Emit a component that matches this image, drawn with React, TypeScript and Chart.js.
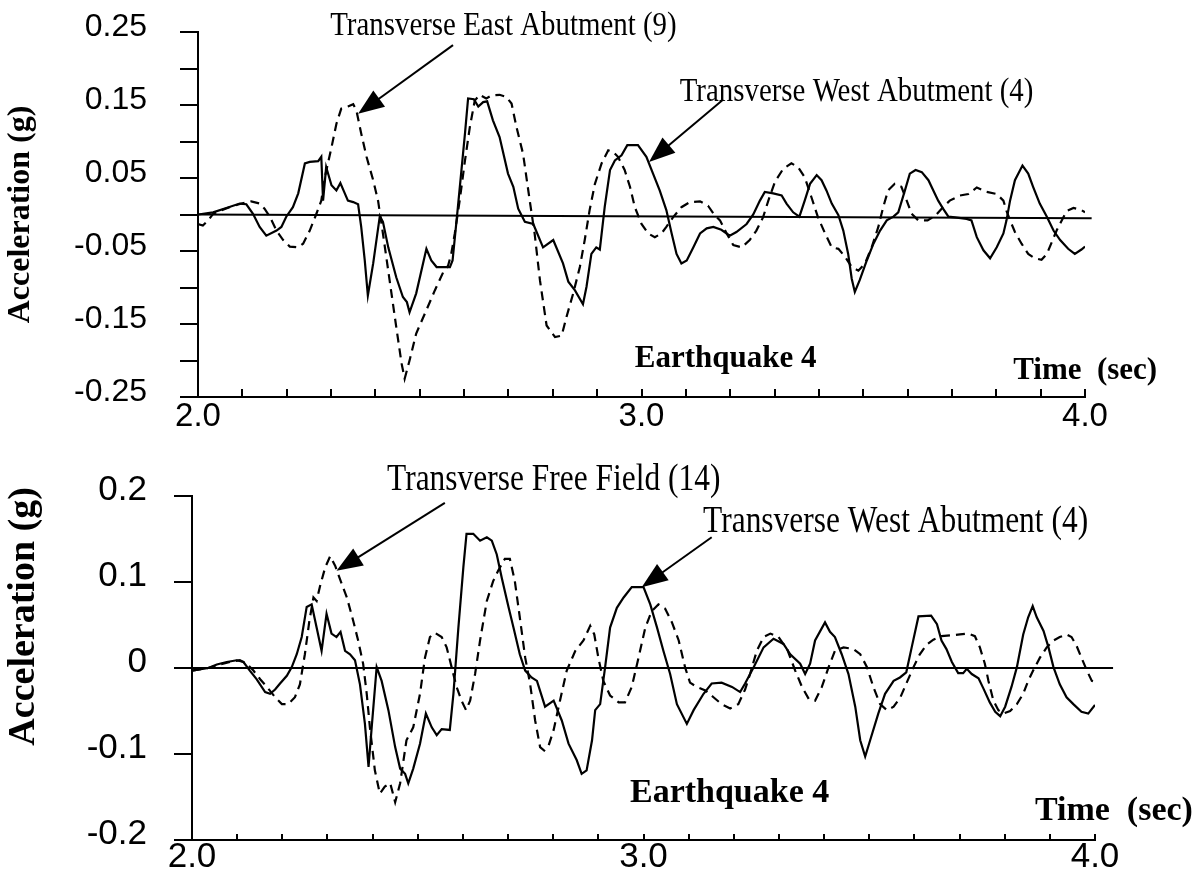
import React, { useEffect, useRef } from 'react';
import { Chart, registerables } from 'chart.js';

Chart.register(...registerables);

// ---------- axis ticks & labels ----------
const TIME_TICKS = [2.0, 2.1, 2.2, 2.3, 2.4, 2.5, 2.6, 2.7, 2.8, 2.9, 3.0, 3.1, 3.2, 3.3, 3.4, 3.5, 3.6, 3.7, 3.8, 3.9, 4.0];
const TIME_LABELS = ['2.0', '', '', '', '', '', '', '', '', '', '3.0', '', '', '', '', '', '', '', '', '', '4.0'];
const TOP_ACC_TICKS = [-0.25, -0.2, -0.15, -0.1, -0.05, 0, 0.05, 0.1, 0.15, 0.2, 0.25];
const TOP_ACC_LABELS = ['-0.25', '', '-0.15', '', '-0.05', '', '0.05', '', '0.15', '', '0.25'];
const BOTTOM_ACC_TICKS = [-0.2, -0.1, 0, 0.1, 0.2];
const BOTTOM_ACC_LABELS = ['-0.2', '-0.1', '0', '0.1', '0.2'];

// ---------- series: [time (sec), acceleration (g)] ----------
const TOP_WEST_4: number[][] = [
  [2.000, 0.000], [2.034, 0.003], [2.064, 0.009], [2.094, 0.015], [2.109, 0.014], [2.124, 0.001], [2.139, -0.017],
  [2.154, -0.029], [2.177, -0.022], [2.188, -0.017], [2.199, -0.003], [2.214, 0.010], [2.226, 0.029], [2.241, 0.070],
  [2.252, 0.072], [2.271, 0.073], [2.278, 0.079], [2.282, 0.019], [2.289, 0.065], [2.301, 0.040], [2.312, 0.033],
  [2.321, 0.043], [2.331, 0.029], [2.338, 0.019], [2.350, 0.017], [2.361, 0.014], [2.368, -0.017], [2.376, -0.063],
  [2.383, -0.111], [2.395, -0.067], [2.410, -0.002], [2.417, -0.010], [2.429, -0.045], [2.447, -0.086], [2.462, -0.113],
  [2.471, -0.120], [2.477, -0.134], [2.492, -0.108], [2.515, -0.047], [2.526, -0.063], [2.538, -0.072], [2.553, -0.072],
  [2.568, -0.072], [2.574, -0.063], [2.586, 0.010], [2.602, 0.111], [2.609, 0.159], [2.622, 0.158], [2.632, 0.148],
  [2.643, 0.154], [2.652, 0.155], [2.665, 0.129], [2.680, 0.106], [2.699, 0.056], [2.711, 0.038], [2.722, 0.008],
  [2.737, -0.010], [2.756, -0.013], [2.778, -0.045], [2.801, -0.035], [2.823, -0.067], [2.835, -0.092], [2.850, -0.104],
  [2.868, -0.123], [2.876, -0.099], [2.887, -0.054], [2.898, -0.045], [2.906, -0.048], [2.917, 0.010], [2.929, 0.061],
  [2.940, 0.074], [2.955, 0.081], [2.968, 0.095], [2.992, 0.095], [3.011, 0.079], [3.026, 0.056], [3.041, 0.033],
  [3.056, 0.006], [3.068, -0.026], [3.079, -0.054], [3.090, -0.067], [3.102, -0.063], [3.117, -0.045], [3.132, -0.026],
  [3.147, -0.019], [3.162, -0.017], [3.180, -0.021], [3.199, -0.029], [3.214, -0.024], [3.237, -0.013], [3.252, 0.000],
  [3.267, 0.019], [3.278, 0.031], [3.297, 0.029], [3.316, 0.026], [3.327, 0.015], [3.342, 0.003], [3.356, -0.003],
  [3.368, 0.019], [3.380, 0.042], [3.395, 0.054], [3.406, 0.047], [3.417, 0.033], [3.429, 0.015], [3.444, -0.001],
  [3.455, -0.022], [3.466, -0.054], [3.474, -0.088], [3.481, -0.106], [3.492, -0.090], [3.508, -0.063], [3.523, -0.040],
  [3.538, -0.022], [3.553, -0.008], [3.568, -0.003], [3.579, 0.003], [3.594, 0.033], [3.605, 0.056], [3.618, 0.061],
  [3.632, 0.058], [3.647, 0.047], [3.658, 0.033], [3.669, 0.019], [3.680, 0.008], [3.692, -0.003], [3.707, -0.004],
  [3.733, -0.006], [3.744, -0.008], [3.756, -0.031], [3.771, -0.049], [3.786, -0.060], [3.801, -0.045], [3.816, -0.026],
  [3.823, -0.008], [3.831, 0.019], [3.842, 0.047], [3.859, 0.067], [3.872, 0.056], [3.883, 0.038], [3.898, 0.015],
  [3.914, -0.003], [3.929, -0.022], [3.944, -0.035], [3.962, -0.047], [3.977, -0.054], [3.992, -0.048], [4.000, -0.044],
];

const TOP_EAST_9: number[][] = [
  [2.000, -0.013], [2.011, -0.015], [2.023, -0.008], [2.034, 0.001], [2.049, 0.005], [2.071, 0.010], [2.098, 0.015],
  [2.120, 0.018], [2.139, 0.015], [2.150, 0.008], [2.162, -0.003], [2.177, -0.022], [2.192, -0.035], [2.207, -0.044],
  [2.226, -0.045], [2.237, -0.040], [2.252, -0.022], [2.267, 0.001], [2.278, 0.019], [2.286, 0.051], [2.301, 0.092],
  [2.312, 0.124], [2.323, 0.145], [2.338, 0.148], [2.350, 0.151], [2.357, 0.143], [2.368, 0.111], [2.380, 0.079],
  [2.395, 0.047], [2.406, 0.019], [2.417, -0.026], [2.432, -0.090], [2.447, -0.154], [2.459, -0.204], [2.466, -0.225],
  [2.477, -0.200], [2.492, -0.163], [2.515, -0.131], [2.534, -0.104], [2.553, -0.079], [2.564, -0.070], [2.571, -0.054],
  [2.579, -0.026], [2.590, 0.019], [2.602, 0.074], [2.613, 0.120], [2.624, 0.156], [2.635, 0.164], [2.650, 0.159],
  [2.662, 0.163], [2.680, 0.164], [2.695, 0.161], [2.707, 0.152], [2.718, 0.120], [2.733, 0.083], [2.748, 0.019],
  [2.759, -0.026], [2.771, -0.090], [2.786, -0.152], [2.805, -0.168], [2.820, -0.166], [2.831, -0.140], [2.846, -0.108],
  [2.861, -0.072], [2.872, -0.035], [2.883, 0.006], [2.895, 0.042], [2.910, 0.070], [2.925, 0.088], [2.936, 0.086],
  [2.947, 0.079], [2.962, 0.061], [2.974, 0.038], [2.985, 0.010], [3.000, -0.013], [3.015, -0.026], [3.030, -0.031],
  [3.045, -0.026], [3.056, -0.017], [3.071, -0.004], [3.090, 0.010], [3.109, 0.017], [3.132, 0.018], [3.150, 0.012],
  [3.165, -0.001], [3.177, -0.008], [3.192, -0.026], [3.207, -0.042], [3.226, -0.045], [3.244, -0.035], [3.259, -0.022],
  [3.274, -0.004], [3.286, 0.019], [3.301, 0.045], [3.320, 0.063], [3.338, 0.070], [3.353, 0.065], [3.368, 0.051],
  [3.383, 0.024], [3.398, -0.004], [3.414, -0.026], [3.429, -0.045], [3.444, -0.047], [3.459, -0.058], [3.474, -0.072],
  [3.489, -0.077], [3.504, -0.067], [3.519, -0.045], [3.534, -0.017], [3.545, 0.010], [3.556, 0.033], [3.571, 0.042],
  [3.586, 0.038], [3.598, 0.019], [3.609, 0.001], [3.624, -0.008], [3.645, -0.008], [3.662, -0.002], [3.680, 0.010],
  [3.695, 0.019], [3.718, 0.026], [3.737, 0.028], [3.756, 0.037], [3.778, 0.031], [3.801, 0.028], [3.816, 0.019],
  [3.823, 0.005], [3.831, -0.008], [3.842, -0.024], [3.857, -0.040], [3.872, -0.054], [3.887, -0.060], [3.902, -0.062],
  [3.914, -0.054], [3.925, -0.038], [3.936, -0.022], [3.951, -0.004], [3.959, 0.005], [3.974, 0.009], [3.992, 0.006],
  [4.000, 0.003],
];

const BOTTOM_WEST_4: number[][] = [
  [2.000, -0.003], [2.036, 0.000], [2.055, 0.004], [2.077, 0.007], [2.099, 0.009], [2.114, 0.007], [2.128, -0.003],
  [2.143, -0.013], [2.162, -0.028], [2.173, -0.030], [2.184, -0.025], [2.195, -0.018], [2.210, -0.009], [2.221, 0.001],
  [2.232, 0.016], [2.243, 0.036], [2.254, 0.071], [2.265, 0.074], [2.276, 0.047], [2.287, 0.020], [2.298, 0.063],
  [2.309, 0.040], [2.320, 0.036], [2.329, 0.042], [2.339, 0.020], [2.350, 0.016], [2.361, 0.009], [2.372, -0.019],
  [2.383, -0.065], [2.391, -0.115], [2.398, -0.069], [2.409, 0.001], [2.420, -0.015], [2.435, -0.049], [2.450, -0.092],
  [2.461, -0.117], [2.472, -0.123], [2.479, -0.134], [2.490, -0.117], [2.505, -0.088], [2.518, -0.053], [2.531, -0.069],
  [2.542, -0.078], [2.553, -0.071], [2.571, -0.072], [2.579, -0.030], [2.590, 0.047], [2.601, 0.117], [2.608, 0.156],
  [2.623, 0.156], [2.638, 0.148], [2.653, 0.152], [2.664, 0.148], [2.675, 0.132], [2.686, 0.105], [2.701, 0.071],
  [2.712, 0.047], [2.726, 0.016], [2.738, -0.003], [2.752, -0.011], [2.764, -0.015], [2.782, -0.045], [2.801, -0.038],
  [2.819, -0.061], [2.834, -0.088], [2.852, -0.107], [2.863, -0.123], [2.874, -0.119], [2.886, -0.084], [2.893, -0.049],
  [2.904, -0.042], [2.915, 0.001], [2.926, 0.047], [2.941, 0.070], [2.956, 0.082], [2.974, 0.094], [3.000, 0.094],
  [3.015, 0.074], [3.030, 0.047], [3.044, 0.020], [3.059, -0.007], [3.074, -0.042], [3.096, -0.065], [3.111, -0.049],
  [3.133, -0.030], [3.151, -0.018], [3.173, -0.017], [3.196, -0.022], [3.214, -0.028], [3.225, -0.018], [3.244, 0.001],
  [3.266, 0.024], [3.288, 0.034], [3.310, 0.028], [3.325, 0.016], [3.347, 0.005], [3.358, -0.007], [3.369, 0.005],
  [3.380, 0.032], [3.402, 0.053], [3.413, 0.042], [3.424, 0.036], [3.439, 0.016], [3.454, -0.007], [3.469, -0.045],
  [3.480, -0.084], [3.491, -0.103], [3.502, -0.084], [3.520, -0.053], [3.535, -0.030], [3.554, -0.015], [3.568, -0.011],
  [3.582, -0.005], [3.594, 0.024], [3.609, 0.060], [3.637, 0.061], [3.650, 0.051], [3.660, 0.032], [3.671, 0.022],
  [3.683, 0.007], [3.697, -0.006], [3.708, -0.006], [3.716, -0.001], [3.727, -0.007], [3.742, -0.012], [3.753, -0.024],
  [3.767, -0.040], [3.779, -0.051], [3.790, -0.056], [3.801, -0.045], [3.815, -0.022], [3.827, 0.001], [3.841, 0.039],
  [3.852, 0.059], [3.862, 0.072], [3.871, 0.059], [3.886, 0.043], [3.897, 0.024], [3.908, 0.001], [3.922, -0.019],
  [3.937, -0.034], [3.952, -0.042], [3.970, -0.051], [3.985, -0.053], [4.000, -0.043],
];

const BOTTOM_FREE_14: number[][] = [
  [2.000, -0.003], [2.036, 0.000], [2.060, 0.004], [2.084, 0.007], [2.106, 0.009], [2.121, 0.005], [2.136, -0.003],
  [2.151, -0.013], [2.169, -0.024], [2.184, -0.034], [2.199, -0.042], [2.213, -0.042], [2.228, -0.034], [2.239, -0.019],
  [2.250, 0.016], [2.260, 0.055], [2.269, 0.082], [2.276, 0.078], [2.283, 0.094], [2.295, 0.117], [2.306, 0.130],
  [2.317, 0.119], [2.328, 0.103], [2.343, 0.082], [2.357, 0.055], [2.368, 0.032], [2.379, 0.005], [2.387, -0.030],
  [2.394, -0.069], [2.405, -0.119], [2.416, -0.146], [2.427, -0.138], [2.439, -0.134], [2.450, -0.156], [2.461, -0.134],
  [2.475, -0.084], [2.490, -0.069], [2.505, -0.030], [2.516, 0.012], [2.527, 0.036], [2.538, 0.041], [2.553, 0.036],
  [2.564, 0.024], [2.575, 0.001], [2.586, -0.022], [2.597, -0.038], [2.607, -0.049], [2.616, -0.038], [2.627, -0.007],
  [2.638, 0.032], [2.653, 0.078], [2.667, 0.101], [2.678, 0.113], [2.693, 0.127], [2.704, 0.127], [2.715, 0.101],
  [2.726, 0.059], [2.738, 0.012], [2.749, -0.019], [2.760, -0.061], [2.771, -0.092], [2.780, -0.096], [2.790, -0.090],
  [2.801, -0.072], [2.815, -0.038], [2.830, -0.003], [2.849, 0.020], [2.867, 0.032], [2.882, 0.049], [2.891, 0.039],
  [2.900, 0.012], [2.911, -0.015], [2.926, -0.032], [2.945, -0.040], [2.959, -0.040], [2.974, -0.022], [2.989, 0.012],
  [3.004, 0.047], [3.018, 0.066], [3.033, 0.074], [3.048, 0.069], [3.063, 0.053], [3.078, 0.032], [3.092, 0.001],
  [3.103, -0.017], [3.118, -0.022], [3.137, -0.026], [3.155, -0.034], [3.173, -0.042], [3.192, -0.047], [3.210, -0.042],
  [3.225, -0.025], [3.236, -0.007], [3.251, 0.020], [3.266, 0.036], [3.281, 0.040], [3.299, 0.036], [3.318, 0.022],
  [3.336, -0.003], [3.351, -0.022], [3.366, -0.036], [3.380, -0.038], [3.395, -0.022], [3.410, 0.001], [3.424, 0.020],
  [3.443, 0.024], [3.465, 0.022], [3.480, 0.016], [3.495, 0.001], [3.509, -0.022], [3.524, -0.042], [3.539, -0.049],
  [3.554, -0.045], [3.569, -0.034], [3.583, -0.017], [3.598, 0.001], [3.612, 0.016], [3.627, 0.027], [3.642, 0.033],
  [3.660, 0.037], [3.679, 0.038], [3.701, 0.039], [3.719, 0.040], [3.734, 0.037], [3.745, 0.024], [3.756, 0.005],
  [3.764, -0.015], [3.775, -0.038], [3.786, -0.049], [3.797, -0.053], [3.812, -0.050], [3.827, -0.042], [3.841, -0.030],
  [3.852, -0.015], [3.863, -0.003], [3.878, 0.012], [3.893, 0.024], [3.908, 0.032], [3.922, 0.036], [3.937, 0.039],
  [3.948, 0.036], [3.959, 0.026], [3.970, 0.012], [3.982, -0.003], [3.993, -0.015], [4.004, -0.017],
];

const TOP_BASELINE: number[][] = [[2.0, 0.0], [4.015, -0.005]];
const BOTTOM_BASELINE: number[][] = [[2.0, 0.0], [4.04, 0.0]];

// ---------- annotations (anchored in data coordinates) ----------
const TOP_NOTES = [
  { text: 'Transverse East Abutment (9)', t: 2.298, a: 0.2454, size: 34, bold: false, squeeze: 0.85 },
  { text: 'Transverse West Abutment (4)', t: 3.086, a: 0.156, size: 34, bold: false, squeeze: 0.85 },
  { text: 'Earthquake 4', t: 2.985, a: -0.209, size: 31, bold: true, squeeze: 1 },
  { text: 'Time  (sec)', t: 3.838, a: -0.226, size: 31, bold: true, squeeze: 1 },
];
const TOP_ARROWS = [
  { from: [2.575, 0.232], to: [2.361, 0.138] },
  { from: [3.183, 0.157], to: [3.017, 0.072] },
];
const BOTTOM_NOTES = [
  { text: 'Transverse Free Field (14)', t: 2.432, a: 0.2064, size: 37, bold: false, squeeze: 0.85 },
  { text: 'Transverse West Abutment (4)', t: 3.132, a: 0.1577, size: 37, bold: false, squeeze: 0.85 },
  { text: 'Earthquake 4', t: 2.970, a: -0.1556, size: 34, bold: true, squeeze: 1 },
  { text: 'Time  (sec)', t: 3.867, a: -0.1768, size: 34, bold: true, squeeze: 1 },
];
const BOTTOM_ARROWS = [
  { from: [2.560, 0.192], to: [2.320, 0.113] },
  { from: [3.151, 0.152], to: [2.996, 0.094] },
];

const Y_TITLE = 'Acceleration (g)';
const CANVAS_W = 1198;
const CANVAS_H = 436;
const SERIF = '"Liberation Serif", "Times New Roman", serif';
const SANS = '"Liberation Sans", Arial, sans-serif';

type Panel = {
  area: { left: number; right: number; top: number; bottom: number };
  solid: number[][];
  dashed: number[][];
  baseline: number[][];
  yMin: number;
  yMax: number;
  yTicks: number[];
  yLabels: string[];
  yFont: number;
  yPad: number;
  yLabelOffset: number;
  xFont: number;
  xPad: number;
  innerTick: number;
  notes: typeof TOP_NOTES;
  arrows: typeof TOP_ARROWS;
  titleX: number;
  titleAt: number;
  titleSize: number;
};

const TOP_PANEL: Panel = {
  area: { left: 198, right: 1085, top: 32, bottom: 397 },
  solid: TOP_WEST_4, dashed: TOP_EAST_9, baseline: TOP_BASELINE,
  yMin: -0.25, yMax: 0.25, yTicks: TOP_ACC_TICKS, yLabels: TOP_ACC_LABELS,
  yFont: 32, yPad: 33, yLabelOffset: -5, xFont: 33, xPad: 3, innerTick: 8,
  notes: TOP_NOTES, arrows: TOP_ARROWS, titleX: 21, titleAt: 0.0, titleSize: 32,
};

const BOTTOM_PANEL: Panel = {
  area: { left: 192, right: 1095, top: 60, bottom: 404 },
  solid: BOTTOM_WEST_4, dashed: BOTTOM_FREE_14, baseline: BOTTOM_BASELINE,
  yMin: -0.2, yMax: 0.2, yTicks: BOTTOM_ACC_TICKS, yLabels: BOTTOM_ACC_LABELS,
  yFont: 35, yPad: 27, yLabelOffset: -6, xFont: 35, xPad: 0, innerTick: 6,
  notes: BOTTOM_NOTES, arrows: BOTTOM_ARROWS, titleX: 24, titleAt: 0.06, titleSize: 38,
};

function drawArrow(ctx: CanvasRenderingContext2D, x1: number, y1: number, x2: number, y2: number) {
  const headLen = 26;
  const headW = 20;
  const ang = Math.atan2(y2 - y1, x2 - x1);
  const bx = x2 - headLen * Math.cos(ang);
  const by = y2 - headLen * Math.sin(ang);
  ctx.beginPath();
  ctx.moveTo(x1, y1);
  ctx.lineTo(bx + 2 * Math.cos(ang), by + 2 * Math.sin(ang));
  ctx.stroke();
  ctx.beginPath();
  ctx.moveTo(x2, y2);
  ctx.lineTo(bx + (headW / 2) * Math.sin(ang), by - (headW / 2) * Math.cos(ang));
  ctx.lineTo(bx - (headW / 2) * Math.sin(ang), by + (headW / 2) * Math.cos(ang));
  ctx.closePath();
  ctx.fill();
}

function decorPlugin(p: Panel) {
  return {
    id: 'panelDecor',
    afterDatasetsDraw(chart: any) {
      const ctx: CanvasRenderingContext2D = chart.ctx;
      const xs = chart.scales.x;
      const ys = chart.scales.y;
      const area = chart.chartArea;
      ctx.save();
      ctx.strokeStyle = '#000';
      ctx.fillStyle = '#000';
      ctx.lineWidth = 2;
      ctx.setLineDash([]);
      // inward ticks on time axis
      for (const v of TIME_TICKS) {
        const px = Math.round(xs.getPixelForValue(v));
        ctx.beginPath();
        ctx.moveTo(px, area.bottom);
        ctx.lineTo(px, area.bottom - p.innerTick);
        ctx.stroke();
      }
      // arrows
      for (const a of p.arrows) {
        drawArrow(
          ctx,
          xs.getPixelForValue(a.from[0]), ys.getPixelForValue(a.from[1]),
          xs.getPixelForValue(a.to[0]), ys.getPixelForValue(a.to[1]),
        );
      }
      // text notes
      ctx.textAlign = 'left';
      ctx.textBaseline = 'alphabetic';
      for (const n of p.notes) {
        ctx.save();
        ctx.translate(xs.getPixelForValue(n.t), ys.getPixelForValue(n.a));
        ctx.scale(n.squeeze, 1);
        ctx.font = `${n.bold ? 'bold ' : ''}${n.size}px ${SERIF}`;
        ctx.fillText(n.text, 0, 0);
        ctx.restore();
      }
      // y-axis title
      ctx.save();
      ctx.translate(p.titleX, ys.getPixelForValue(p.titleAt));
      ctx.rotate(-Math.PI / 2);
      ctx.font = `bold ${p.titleSize}px ${SERIF}`;
      ctx.textAlign = 'center';
      ctx.textBaseline = 'middle';
      ctx.fillText(Y_TITLE, 0, 0);
      ctx.restore();
      ctx.restore();
    },
  };
}

function makeConfig(p: Panel): any {
  const toXY = (arr: number[][]) => arr.map(([x, y]) => ({ x, y }));
  return {
    type: 'line',
    data: {
      datasets: [
        {
          label: 'Transverse West Abutment (4)',
          data: toXY(p.solid),
          borderColor: '#000', borderWidth: 2.2, pointRadius: 0, tension: 0, fill: false,
        },
        {
          label: 'dashed',
          data: toXY(p.dashed),
          borderColor: '#000', borderWidth: 2.2, borderDash: [9, 6], pointRadius: 0, tension: 0, fill: false,
        },
        {
          label: 'zero',
          data: toXY(p.baseline),
          borderColor: '#000', borderWidth: 2, pointRadius: 0, tension: 0, fill: false, clip: false,
        },
      ],
    },
    options: {
      responsive: false,
      animation: false,
      devicePixelRatio: 1,
      events: [],
      layout: {
        padding: { left: 0, right: CANVAS_W - p.area.right, top: p.area.top, bottom: 0 },
      },
      plugins: { legend: { display: false }, tooltip: { enabled: false } },
      scales: {
        x: {
          type: 'linear',
          min: 2,
          max: 4,
          afterBuildTicks: (axis: any) => { axis.ticks = TIME_TICKS.map((v) => ({ value: v })); },
          afterFit: (axis: any) => {
            axis.height = CANVAS_H - p.area.bottom;
            axis.paddingLeft = 0; axis.paddingRight = 0; axis.paddingTop = 0; axis.paddingBottom = 0;
          },
          grid: { display: false, drawTicks: false },
          border: { display: true, color: '#000', width: 2 },
          ticks: {
            autoSkip: false, maxRotation: 0, minRotation: 0,
            padding: p.xPad,
            color: '#000',
            font: { family: SANS, size: p.xFont, lineHeight: 1 },
            callback: (_v: any, i: number) => TIME_LABELS[i],
          },
        },
        y: {
          type: 'linear',
          min: p.yMin,
          max: p.yMax,
          afterBuildTicks: (axis: any) => { axis.ticks = p.yTicks.map((v) => ({ value: v })); },
          afterFit: (axis: any) => {
            axis.width = p.area.left;
            axis.paddingLeft = 0; axis.paddingRight = 0; axis.paddingTop = 0; axis.paddingBottom = 0;
          },
          grid: { display: true, drawOnChartArea: false, drawTicks: true, tickLength: 18, color: '#000', lineWidth: 2 },
          border: { display: true, color: '#000', width: 2 },
          ticks: {
            autoSkip: false,
            padding: p.yPad,
            labelOffset: p.yLabelOffset,
            color: '#000',
            font: { family: SANS, size: p.yFont },
            callback: (_v: any, i: number) => p.yLabels[i],
          },
        },
      },
    },
    plugins: [decorPlugin(p)],
  };
}

function PanelChart({ panel }: { panel: Panel }) {
  const ref = useRef<HTMLCanvasElement | null>(null);
  useEffect(() => {
    if (!ref.current) return;
    const chart = new Chart(ref.current, makeConfig(panel));
    return () => chart.destroy();
  }, [panel]);
  return <canvas ref={ref} width={CANVAS_W} height={CANVAS_H} style={{ display: 'block', width: CANVAS_W, height: CANVAS_H }} />;
}

export default function App() {
  return (
    <div style={{ position: 'absolute', left: 0, top: 0, width: CANVAS_W, height: CANVAS_H * 2, background: '#fff' }}>
      <PanelChart panel={TOP_PANEL} />
      <PanelChart panel={BOTTOM_PANEL} />
    </div>
  );
}
